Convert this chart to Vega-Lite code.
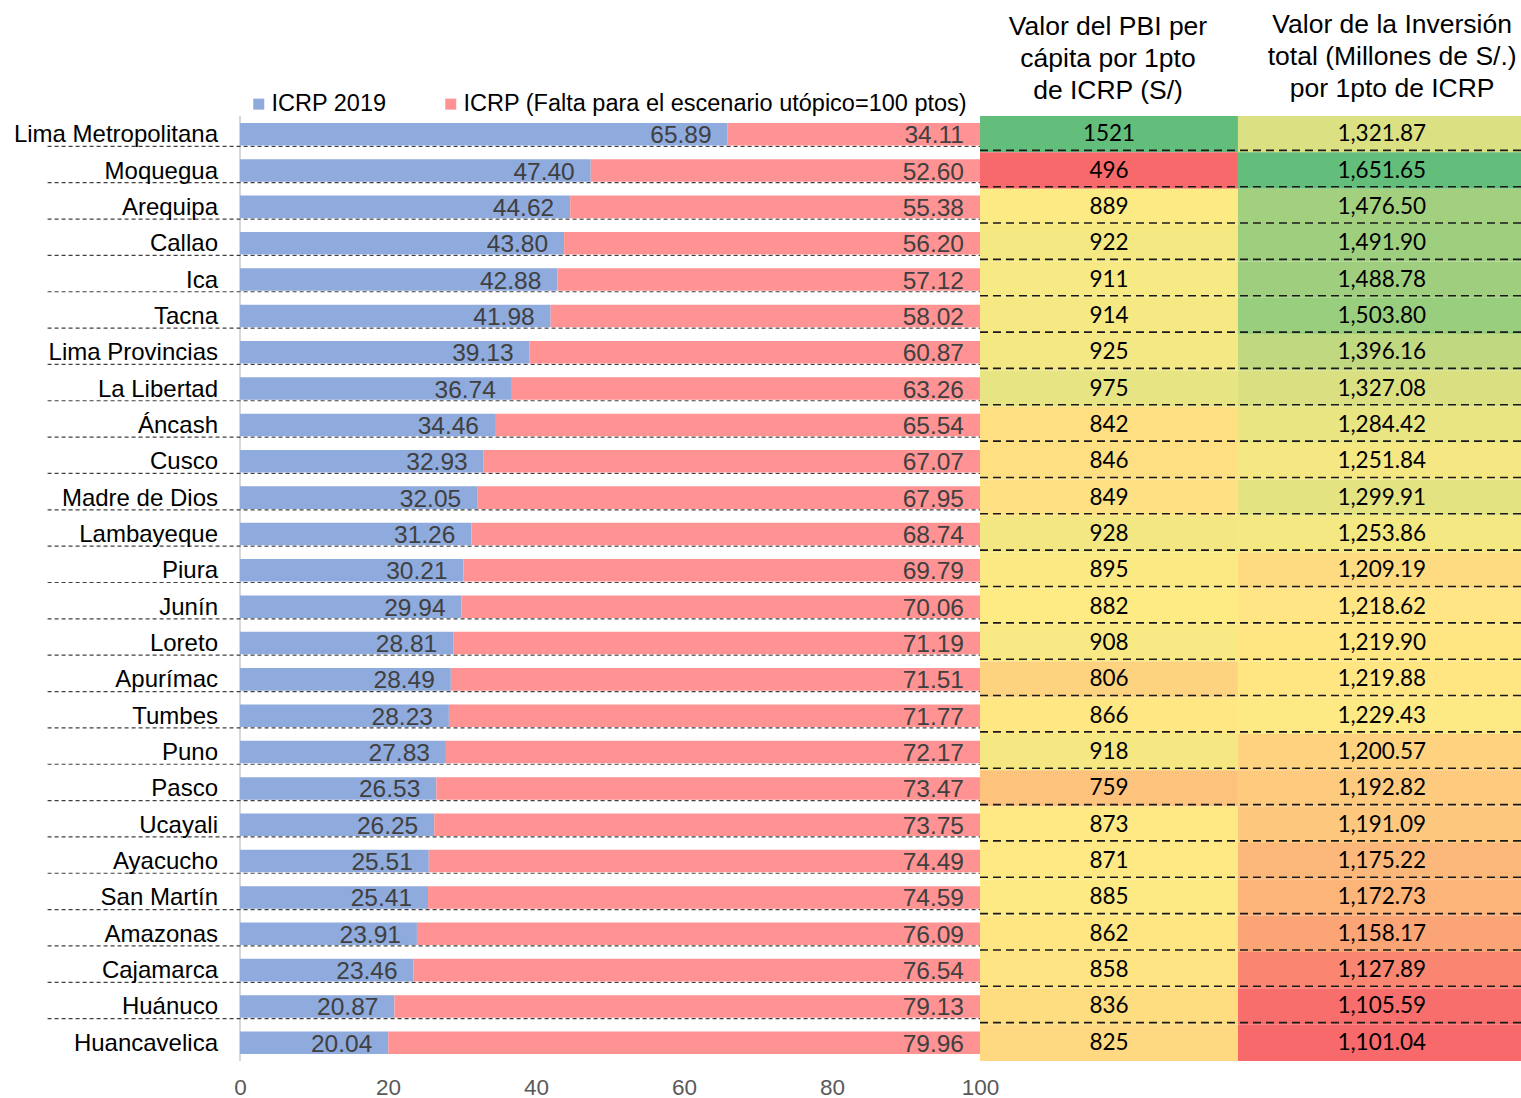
{
  "$schema": "https://vega.github.io/schema/vega-lite/v6.json",
  "autosize": {"type": "none"},
  "width": 1476,
  "height": 945,
  "padding": {"left": 45, "top": 116, "right": 0, "bottom": 37},
  "background": "white",
  "config": {"view": {"stroke": null}, "font": "Arial"},
  "data": {"values": [
    {"region": "Lima Metropolitana", "icrp": 65.89, "falta": 34.11, "pbi": 1521, "inv": 1321.87},
    {"region": "Moquegua", "icrp": 47.40, "falta": 52.60, "pbi": 496, "inv": 1651.65},
    {"region": "Arequipa", "icrp": 44.62, "falta": 55.38, "pbi": 889, "inv": 1476.50},
    {"region": "Callao", "icrp": 43.80, "falta": 56.20, "pbi": 922, "inv": 1491.90},
    {"region": "Ica", "icrp": 42.88, "falta": 57.12, "pbi": 911, "inv": 1488.78},
    {"region": "Tacna", "icrp": 41.98, "falta": 58.02, "pbi": 914, "inv": 1503.80},
    {"region": "Lima Provincias", "icrp": 39.13, "falta": 60.87, "pbi": 925, "inv": 1396.16},
    {"region": "La Libertad", "icrp": 36.74, "falta": 63.26, "pbi": 975, "inv": 1327.08},
    {"region": "Áncash", "icrp": 34.46, "falta": 65.54, "pbi": 842, "inv": 1284.42},
    {"region": "Cusco", "icrp": 32.93, "falta": 67.07, "pbi": 846, "inv": 1251.84},
    {"region": "Madre de Dios", "icrp": 32.05, "falta": 67.95, "pbi": 849, "inv": 1299.91},
    {"region": "Lambayeque", "icrp": 31.26, "falta": 68.74, "pbi": 928, "inv": 1253.86},
    {"region": "Piura", "icrp": 30.21, "falta": 69.79, "pbi": 895, "inv": 1209.19},
    {"region": "Junín", "icrp": 29.94, "falta": 70.06, "pbi": 882, "inv": 1218.62},
    {"region": "Loreto", "icrp": 28.81, "falta": 71.19, "pbi": 908, "inv": 1219.90},
    {"region": "Apurímac", "icrp": 28.49, "falta": 71.51, "pbi": 806, "inv": 1219.88},
    {"region": "Tumbes", "icrp": 28.23, "falta": 71.77, "pbi": 866, "inv": 1229.43},
    {"region": "Puno", "icrp": 27.83, "falta": 72.17, "pbi": 918, "inv": 1200.57},
    {"region": "Pasco", "icrp": 26.53, "falta": 73.47, "pbi": 759, "inv": 1192.82},
    {"region": "Ucayali", "icrp": 26.25, "falta": 73.75, "pbi": 873, "inv": 1191.09},
    {"region": "Ayacucho", "icrp": 25.51, "falta": 74.49, "pbi": 871, "inv": 1175.22},
    {"region": "San Martín", "icrp": 25.41, "falta": 74.59, "pbi": 885, "inv": 1172.73},
    {"region": "Amazonas", "icrp": 23.91, "falta": 76.09, "pbi": 862, "inv": 1158.17},
    {"region": "Cajamarca", "icrp": 23.46, "falta": 76.54, "pbi": 858, "inv": 1127.89},
    {"region": "Huánuco", "icrp": 20.87, "falta": 79.13, "pbi": 836, "inv": 1105.59},
    {"region": "Huancavelica", "icrp": 20.04, "falta": 79.96, "pbi": 825, "inv": 1101.04}
  ]},
  "resolve": {"scale": {"fill": "independent"}},
  "layer": [
    {
      "mark": {"type": "rect"},
      "encoding": {
        "y": {"field": "region", "type": "nominal", "sort": null, "axis": null,
              "scale": {"paddingInner": 0, "paddingOuter": 0}},
        "x": {"datum": 100, "type": "quantitative",
              "scale": {"domain": [-26.35, 173.11], "nice": false, "zero": false},
              "axis": {"values": [0, 20, 40, 60, 80, 100], "grid": false, "domain": false, "ticks": false, "tickSize": 0,
                       "labelFontSize": 22.5, "labelColor": "#595959", "labelPadding": 15, "title": null, "labelFont": "Arial"}},
        "x2": {"datum": 134.86},
        "fill": {"field": "pbi", "type": "quantitative", "legend": null,
                 "scale": {"domain": [496, 877.5, 1521], "range": ["#F8696B", "#FFEB84", "#63BE7B"], "interpolate": "rgb"}}
      }
    },
    {
      "mark": {"type": "rect"},
      "encoding": {
        "y": {"field": "region", "type": "nominal", "sort": null},
        "x": {"datum": 134.86, "type": "quantitative"},
        "x2": {"datum": 173.11},
        "fill": {"field": "inv", "type": "quantitative", "legend": null,
                 "scale": {"domain": [1101.04, 1224.665, 1651.65], "range": ["#F8696B", "#FFEB84", "#63BE7B"], "interpolate": "rgb"}}
      }
    },
    {
      "mark": {"type": "rule", "color": "#d9d9d9", "strokeWidth": 1},
      "encoding": {"x": {"datum": 0, "type": "quantitative"}}
    },
    {
      "transform": [{"filter": "datum.region !== 'Huancavelica'"}],
      "mark": {"type": "rule", "color": "#404040", "strokeWidth": 1.2, "strokeDash": [4, 3], "yOffset": -6},
      "encoding": {
        "y": {"field": "region", "type": "nominal", "sort": null, "bandPosition": 1},
        "x": {"datum": -26, "type": "quantitative"},
        "x2": {"datum": 100}
      }
    },
    {
      "transform": [{"filter": "datum.region !== 'Huancavelica'"}],
      "mark": {"type": "rule", "color": "#1a1a1a", "strokeWidth": 1.6, "strokeDash": [8, 5], "yOffset": -2},
      "encoding": {
        "y": {"field": "region", "type": "nominal", "sort": null, "bandPosition": 1},
        "x": {"datum": 100, "type": "quantitative"},
        "x2": {"datum": 173.11}
      }
    },
    {
      "mark": {"type": "bar", "height": {"band": 0.62}},
      "encoding": {
        "y": {"field": "region", "type": "nominal", "sort": null},
        "x": {"field": "icrp", "type": "quantitative"},
        "x2": {"datum": 0},
        "color": {"datum": "ICRP 2019", "type": "nominal",
                  "scale": {"domain": ["ICRP 2019", "ICRP (Falta para el escenario utópico=100 ptos)"], "range": ["#8FAADC", "#FF9393"]},
                  "legend": {"orient": "none", "legendX": 202, "legendY": -24, "direction": "horizontal", "title": null,
                             "symbolType": "square", "symbolSize": 121, "symbolStrokeWidth": 0, "labelFontSize": 23.5,
                             "labelFont": "Arial", "labelColor": "#000000", "labelLimit": 0, "columnPadding": 52,
                             "labelOffset": 1, "padding": 0}}
      }
    },
    {
      "mark": {"type": "bar", "height": {"band": 0.62}},
      "encoding": {
        "y": {"field": "region", "type": "nominal", "sort": null},
        "x": {"field": "icrp", "type": "quantitative"},
        "x2": {"datum": 100},
        "color": {"datum": "ICRP (Falta para el escenario utópico=100 ptos)", "type": "nominal"}
      }
    },
    {
      "mark": {"type": "text", "align": "right", "baseline": "middle", "dx": -16, "dy": 2, "fontSize": 24.5, "color": "#404040", "font": "Arial"},
      "encoding": {
        "y": {"field": "region", "type": "nominal", "sort": null},
        "x": {"field": "icrp", "type": "quantitative"},
        "text": {"field": "icrp", "type": "quantitative", "format": ".2f"}
      }
    },
    {
      "mark": {"type": "text", "align": "right", "baseline": "middle", "dx": -16, "dy": 2, "fontSize": 24.5, "color": "#404040", "font": "Arial"},
      "encoding": {
        "y": {"field": "region", "type": "nominal", "sort": null},
        "x": {"datum": 100, "type": "quantitative"},
        "text": {"field": "falta", "type": "quantitative", "format": ".2f"}
      }
    },
    {
      "mark": {"type": "text", "align": "right", "baseline": "middle", "dx": -22, "dy": 1, "fontSize": 24, "color": "#000000", "font": "Arial"},
      "encoding": {
        "y": {"field": "region", "type": "nominal", "sort": null},
        "x": {"datum": 0, "type": "quantitative"},
        "text": {"field": "region", "type": "nominal"}
      }
    },
    {
      "mark": {"type": "text", "align": "center", "baseline": "middle", "dy": 0, "fontSize": 22.5, "color": "#000000", "font": "Lato"},
      "encoding": {
        "y": {"field": "region", "type": "nominal", "sort": null},
        "x": {"datum": 117.43, "type": "quantitative"},
        "text": {"field": "pbi", "type": "quantitative", "format": "d"}
      }
    },
    {
      "mark": {"type": "text", "align": "center", "baseline": "middle", "dy": 0, "fontSize": 22.5, "color": "#000000", "font": "Lato"},
      "encoding": {
        "y": {"field": "region", "type": "nominal", "sort": null},
        "x": {"datum": 154.3, "type": "quantitative"},
        "text": {"field": "inv", "type": "quantitative", "format": ",.2f"}
      }
    },
    {
      "data": {"values": [{"encabezado": "pbi"}]},
      "mark": {"type": "text", "align": "center", "baseline": "middle", "dy": -107, "fontSize": 26.5, "lineHeight": 32, "color": "#000000", "font": "Arial",
               "text": ["Valor del PBI per", "cápita por 1pto", "de ICRP (S/)"]},
      "encoding": {
        "y": {"datum": "Lima Metropolitana", "type": "nominal"},
        "x": {"datum": 117.3, "type": "quantitative"}
      }
    },
    {
      "data": {"values": [{"encabezado": "inv"}]},
      "mark": {"type": "text", "align": "center", "baseline": "middle", "dy": -109, "fontSize": 26.5, "lineHeight": 32, "color": "#000000", "font": "Arial",
               "text": ["Valor de la Inversión", "total (Millones de S/.)", "por 1pto de ICRP"]},
      "encoding": {
        "y": {"datum": "Lima Metropolitana", "type": "nominal"},
        "x": {"datum": 155.7, "type": "quantitative"}
      }
    }
  ]
}
